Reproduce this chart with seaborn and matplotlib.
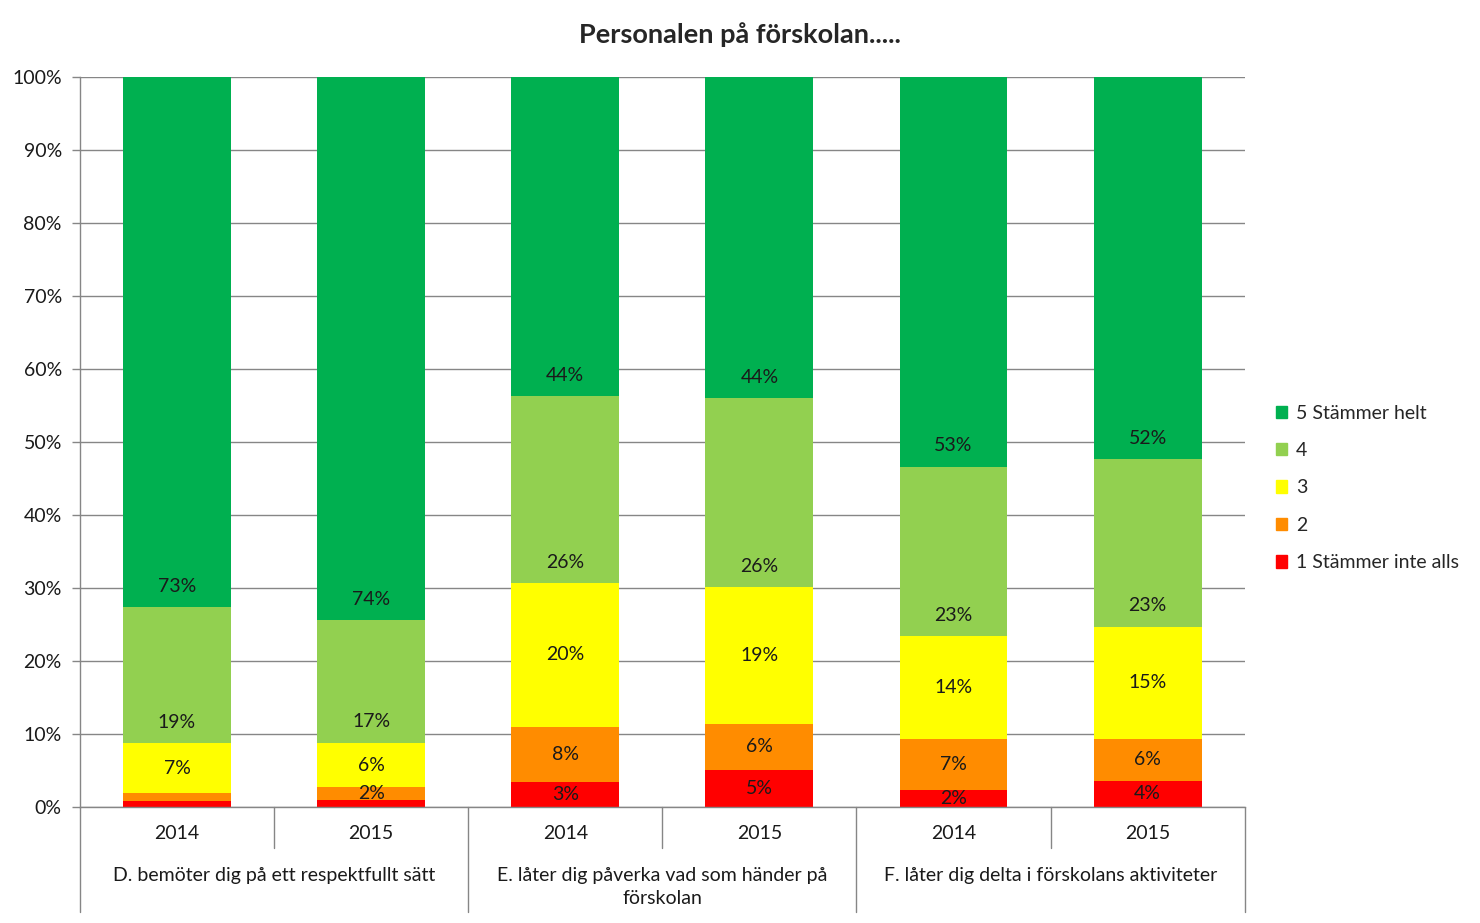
import seaborn as sns
import matplotlib.pyplot as plt
import pandas as pd
from matplotlib.patches import Rectangle
from matplotlib.lines import Line2D

# Data (andel i procent per svarsalternativ)
groups = ['D. bemöter dig på ett respektfullt sätt',
          'E. låter dig påverka vad som händer på\nförskolan',
          'F. låter dig delta i förskolans aktiviteter']
years = ['2014', '2015']
bars = ['D 2014', 'D 2015', 'E 2014', 'E 2015', 'F 2014', 'F 2015']
levels = ['1 Stämmer inte alls', '2', '3', '4', '5 Stämmer helt']
v1 = [0.8, 1.0, 3.4, 5.1, 2.3, 3.6]
v2 = [1.1, 1.7, 7.6, 6.3, 7.0, 5.7]
v3 = [6.8, 6.1, 19.7, 18.7, 14.1, 15.4]
v4 = [18.7, 16.8, 25.6, 25.9, 23.2, 22.9]
v5 = [72.6, 74.4, 43.7, 44.0, 53.4, 52.4]
colors = ['#FF0000', '#FF8C00', '#FFFF00', '#92D050', '#00B050']

sns.set_style('white')
plt.rcParams['font.family'] = ['Lato', 'DejaVu Sans']

df = pd.DataFrame({'bar': bars, levels[0]: v1, levels[1]: v2, levels[2]: v3,
                   levels[3]: v4, levels[4]: v5})
cum = df[levels].cumsum(axis=1)

fig = plt.figure(figsize=(14.8, 9.23), dpi=100)
ax = fig.add_axes([0.054, 0.1257, 0.787, 0.7909])

# staplade staplar: rita kumulativa summor från toppen och nedåt
for i in range(len(levels) - 1, -1, -1):
    sns.barplot(x=df['bar'], y=cum[levels[i]], color=colors[i], saturation=1,
                width=0.556, ax=ax, order=bars, linewidth=0, edgecolor='none')

fs = 14
# datalabels
for j, b in enumerate(bars):
    bottom = 0
    for i, lev in enumerate(levels):
        val = df.loc[j, lev]
        if val >= 1.5:
            txt = f'{val:.0f}%'
            if i >= 3:
                ax.annotate(txt, (j, bottom), xytext=(0, 15), textcoords='offset points',
                            ha='center', va='center', fontsize=fs, color='#1a1a1a')
            else:
                ax.text(j, bottom + val / 2, txt, ha='center', va='center',
                        fontsize=fs, color='#1a1a1a')
        bottom += val

ax.set_ylim(0, 100)
ax.set_xlim(-0.5, 5.5)
ax.set_yticks(range(0, 101, 10))
ax.set_yticklabels([f'{t}%' for t in range(0, 101, 10)])
ax.set_xticks(range(6))
ax.set_xticklabels([years[k % 2] for k in range(6)])
ax.set_xlabel('')
ax.set_ylabel('')
ax.yaxis.grid(True, color='#868686', linewidth=1)
ax.set_axisbelow(True)
ax.tick_params(axis='y', length=6, width=1, color='#868686', pad=7, labelsize=fs,
               left=True, labelcolor='#1a1a1a')
ax.tick_params(axis='x', length=0, pad=13, labelsize=fs, labelcolor='#1a1a1a')
for s in ['top', 'right']:
    ax.spines[s].set_visible(False)
for s in ['left', 'bottom']:
    ax.spines[s].set_color('#868686')
    ax.spines[s].set_linewidth(1)

# kategoriavgränsare under x-axeln
tr = ax.get_xaxis_transform()
for x in [0.5, 2.5, 4.5]:
    ax.add_line(Line2D([x, x], [0, -0.056], transform=tr, color='#868686', lw=1, clip_on=False))
for x in [-0.5, 1.5, 3.5, 5.5]:
    ax.add_line(Line2D([x, x], [0, -0.144], transform=tr, color='#868686', lw=1, clip_on=False))

for g, name in enumerate(groups):
    ax.annotate(name, (2 * g + 0.5, 0), xycoords=('data', 'axes fraction'),
                xytext=(0, -43), textcoords='offset points', ha='center', va='top',
                fontsize=fs, color='#1a1a1a', linespacing=1.45)

fig.suptitle('Personalen på förskolan.....', x=0.5, y=0.962, va='center',
             fontsize=19.5, fontweight='bold')

handles = [Rectangle((0, 0), 1, 1, color=colors[i]) for i in range(4, -1, -1)]
labels = [levels[i] for i in range(4, -1, -1)]
fig.legend(handles, labels, loc='center left', bbox_to_anchor=(0.862, 0.4713),
           frameon=False, fontsize=fs, handlelength=0.6, handleheight=0.6,
           handletextpad=0.45, labelspacing=1.05, borderpad=0, borderaxespad=0)

plt.savefig('out.png', dpi=100)
